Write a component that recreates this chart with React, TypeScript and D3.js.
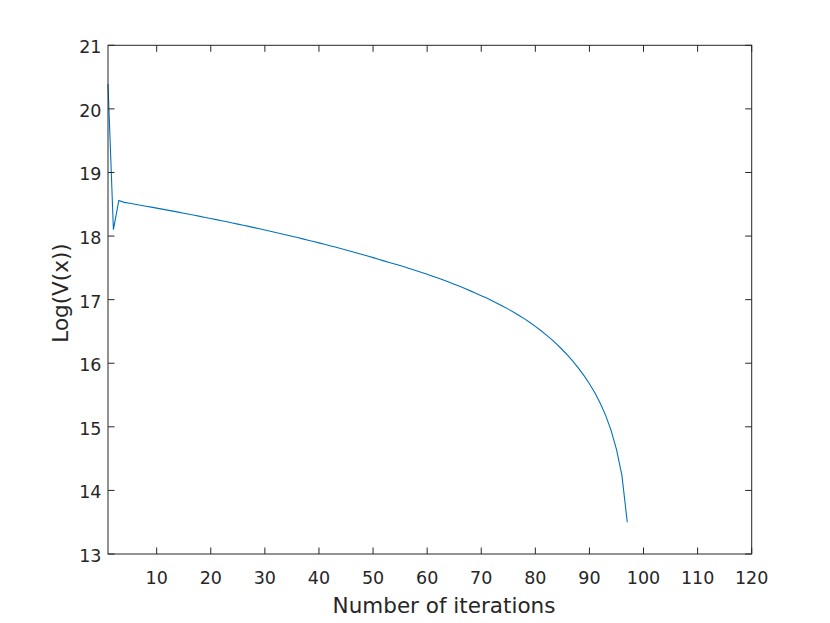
import React from "react";
import * as d3 from "d3";

// Log(V(x)) per iteration
const iterations: number[] = d3.range(1, 98);
const logV: number[] = [
  20.39, 18.1, 18.56, 18.53, 18.515, 18.5, 18.485, 18.47, 18.455, 18.44,
  18.424, 18.408, 18.392, 18.376, 18.36, 18.344, 18.327, 18.31, 18.293, 18.276,
  18.259, 18.242, 18.224, 18.206, 18.188, 18.17, 18.152, 18.133, 18.114, 18.095,
  18.076, 18.057, 18.037, 18.017, 17.997, 17.977, 17.956, 17.935, 17.914, 17.893,
  17.871, 17.849, 17.827, 17.804, 17.781, 17.758, 17.734, 17.71, 17.686, 17.661,
  17.636, 17.61, 17.585, 17.561, 17.536, 17.51, 17.483, 17.456, 17.428, 17.399,
  17.369, 17.339, 17.308, 17.276, 17.243, 17.209, 17.174, 17.138, 17.101, 17.063,
  17.024, 16.983, 16.941, 16.897, 16.851, 16.803, 16.752, 16.698, 16.641, 16.58,
  16.515, 16.447, 16.374, 16.296, 16.212, 16.122, 16.025, 15.92, 15.805, 15.678,
  15.535, 15.372, 15.18, 14.945, 14.645, 14.24, 13.5,
];
const xTicks: number[] = [10, 20, 30, 40, 50, 60, 70, 80, 90, 100, 110, 120];
const yTicks: number[] = [13, 14, 15, 16, 17, 18, 19, 20, 21];

const W = 830;
const H = 623;
const m = { left: 108, right: 751.7, top: 45.3, bottom: 554 };
const axisColor = "#262626";
const font = "'DejaVu Sans', Verdana, sans-serif";

export default function App() {
  const x = d3.scaleLinear().domain([1, 120]).range([m.left, m.right]);
  const y = d3.scaleLinear().domain([13, 21]).range([m.bottom, m.top]);
  const line = d3
    .line<number>()
    .x((_, i) => x(iterations[i]))
    .y((d) => y(d));
  const tick = 6.5;

  return (
    <svg
      width={W}
      height={H}
      style={{ position: "absolute", left: 0, top: 0, background: "#fff" }}
    >
      <rect x={0} y={0} width={W} height={H} fill="#fff" />
      <path d={line(logV) || ""} fill="none" stroke="#0072BD" strokeWidth={1.1} />

      {/* box */}
      <rect
        x={m.left}
        y={m.top}
        width={m.right - m.left}
        height={m.bottom - m.top}
        fill="none"
        stroke={axisColor}
        strokeWidth={1}
      />

      {xTicks.map((t) => (
        <g key={"x" + t}>
          <line x1={x(t)} x2={x(t)} y1={m.bottom} y2={m.bottom - tick} stroke={axisColor} />
          <line x1={x(t)} x2={x(t)} y1={m.top} y2={m.top + tick} stroke={axisColor} />
          <text
            x={x(t)}
            y={584}
            textAnchor="middle"
            fontFamily={font}
            fontSize={17.5}
            fill={axisColor}
          >
            {t}
          </text>
        </g>
      ))}

      {yTicks.map((t) => (
        <g key={"y" + t}>
          <line x1={m.left} x2={m.left + tick} y1={y(t)} y2={y(t)} stroke={axisColor} />
          <line x1={m.right} x2={m.right - tick} y1={y(t)} y2={y(t)} stroke={axisColor} />
          <text
            x={101.5}
            y={y(t) + 8}
            textAnchor="end"
            fontFamily={font}
            fontSize={17.5}
            fill={axisColor}
          >
            {t}
          </text>
        </g>
      ))}

      <text
        x={444}
        y={613}
        textAnchor="middle"
        fontFamily={font}
        fontSize={21.5}
        fill={axisColor}
      >
        Number of iterations
      </text>
      <text
        transform={`translate(68,${293}) rotate(-90)`}
        textAnchor="middle"
        fontFamily={font}
        fontSize={21.5}
        fill={axisColor}
      >
        Log(V(x))
      </text>
    </svg>
  );
}
